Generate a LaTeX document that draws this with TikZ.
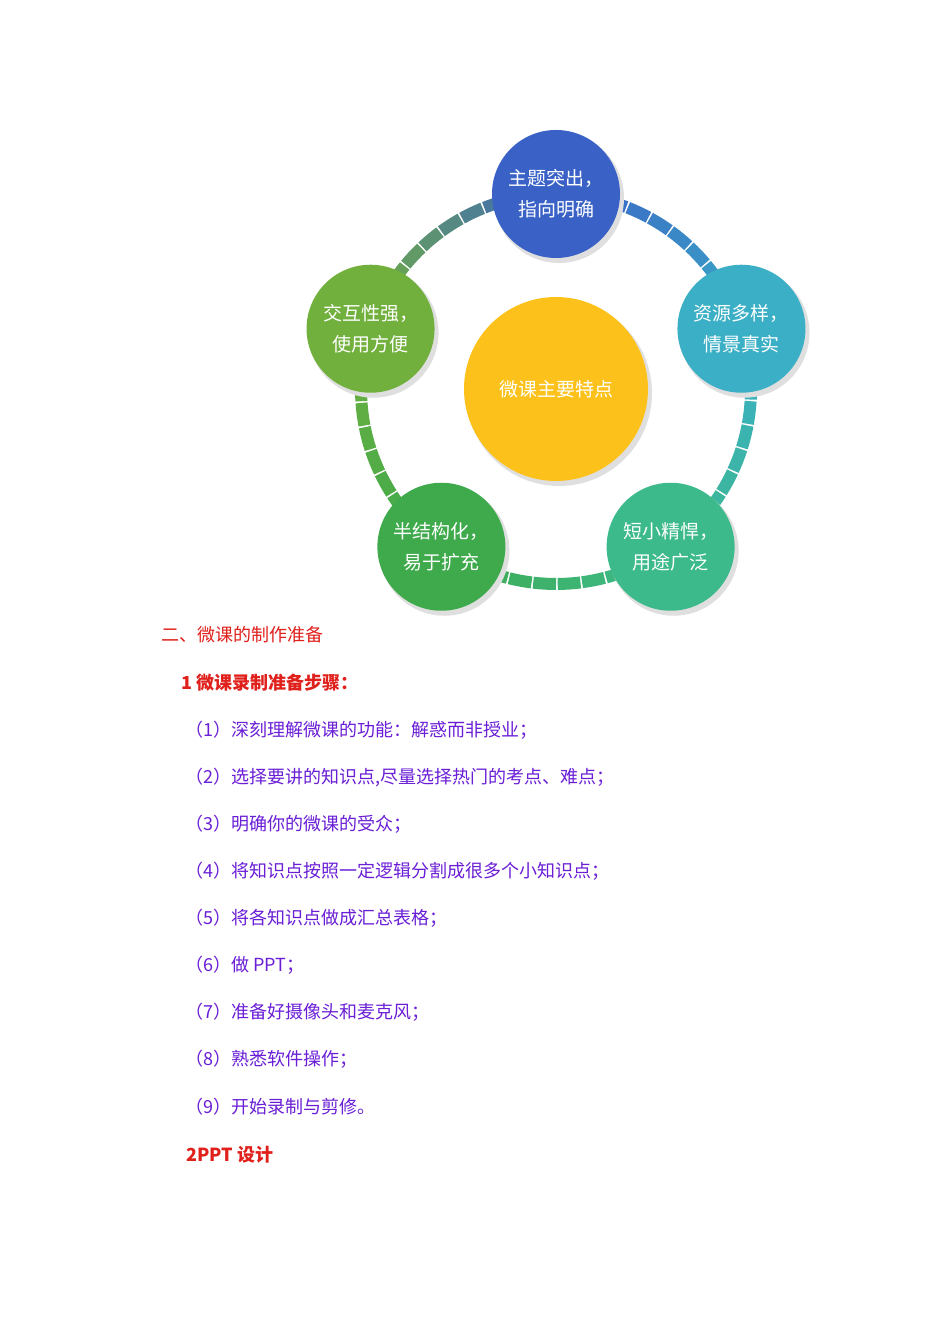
\documentclass[tikz,border=0pt]{standalone}
\usepackage{fontspec}
\newfontfamily\cjk{Noto Sans CJK SC}
\usetikzlibrary{calc}
\definecolor{cA}{HTML}{3A62C6}
\definecolor{cB}{HTML}{3AAFC6}
\definecolor{cC}{HTML}{3DBA8C}
\definecolor{cD}{HTML}{3FAA4C}
\definecolor{cE}{HTML}{72B03E}
\definecolor{cY}{HTML}{FCC21B}
\definecolor{txr}{HTML}{E0201B}
\definecolor{txp}{HTML}{6A1ED6}
\tikzset{bub/.style={circle,minimum size=128pt,inner sep=0pt,align=center,text=white,font=\cjk\fontsize{19}{31}\selectfont},
 ln/.style={anchor=west,font=\cjk\fontsize{18}{20}\selectfont,text=txp},
 hd/.style={anchor=west,font=\cjk\bfseries\fontsize{18}{20}\selectfont,text=txr}}
\begin{document}
\begin{tikzpicture}[x=1pt,y=1pt]
\useasboundingbox[fill=white] (0,0) rectangle (950,1344);
\coordinate (c) at (556,955);
\def\seg#1#2#3#4{\foreach \i in {0,...,9}{\pgfmathsetmacro\p{100-\i*10}
 \draw[line width=12pt,color=#3!\p!#4] ($(c)+({#1+(#2-#1)*\i/10}:195)$) arc[start angle={#1+(#2-#1)*\i/10},end angle={#1+(#2-#1)*(\i+1)/10+0.5},radius=195];}}
\seg{90}{18}{cA}{cB}
\seg{18}{-54}{cB}{cC}
\seg{-54}{-126}{cC}{cD}
\seg{-126}{-198}{cD}{cE}
\seg{162}{90}{cE}{cA}
\foreach \a/\col/\nm/\t in {90/cA/n1/{主题突出，\\指向明确},18/cB/n2/{资源多样，\\情景真实},-54/cC/n3/{短小精悍，\\用途广泛},-126/cD/n4/{半结构化，\\易于扩充},162/cE/n5/{交互性强，\\使用方便}}{
 \fill[gray!25] ($(c)+(\a:195)+(3,-4)$) circle (65);
 \node[bub,fill=\col] (\nm) at ($(c)+(\a:195)$) {\t};}
\fill[gray!25] ($(c)+(3,-4)$) circle (93);
\node[bub,fill=cY,minimum size=184pt] (ctr) at (c) {微课主要特点};
\node[hd,font=\cjk\fontsize{18}{20}\selectfont] (h1) at (158,709) {二、微课的制作准备};
\node[hd] (h2) at (178,661) {1 微课录制准备步骤：};
\foreach \k/\t in {1/{（1）深刻理解微课的功能：解惑而非授业；},2/{（2）选择要讲的知识点,尽量选择热门的考点、难点；},3/{（3）明确你的微课的受众；},4/{（4）将知识点按照一定逻辑分割成很多个小知识点；},5/{（5）将各知识点做成汇总表格；},6/{（6）做 PPT；},7/{（7）准备好摄像头和麦克风；},8/{（8）熟悉软件操作；},9/{（9）开始录制与剪修。}}{
 \node[ln] (l\k) at (182,{1344-730-(\k-1)*47.1}) {\t};}
\node[hd] (h3) at (183,189) {2PPT 设计};
\end{tikzpicture}
\end{document}
